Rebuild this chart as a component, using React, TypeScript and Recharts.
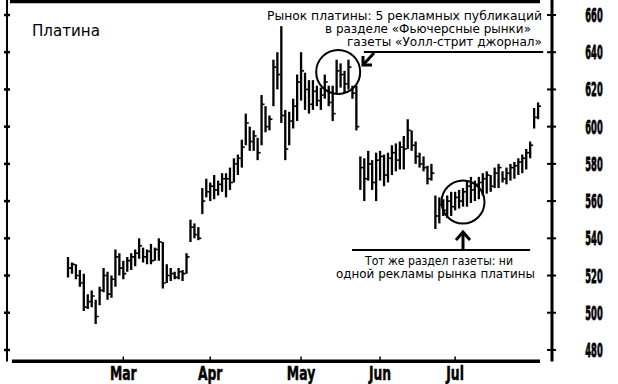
import { Bar, ComposedChart, ReferenceDot, ReferenceLine, XAxis, YAxis } from "recharts";

// daily platinum bars (trading-day index 0..119)
const highs = [
  530, 527, 526, 523, 521, 510, 512, 507, 514, 524,
  522, 520, 534, 532, 528, 530, 532, 534, 540, 535,
  534, 537, 535, 540, 538, 526, 524, 522, 524, 523,
  532, 550, 548, 546, 567, 572, 570, 574, 571, 575,
  575, 578, 583, 585, 593, 607, 600, 598, 594, 617,
  611, 606, 636, 640, 654, 609, 608, 615, 628, 640,
  629, 625, 625, 622, 621, 628, 622, 622, 636, 634,
  630, 636, 622, 622, 584, 583, 587, 582, 586, 587,
  585, 586, 590, 591, 592, 595, 604, 598, 592, 586,
  584, 579, 580, 563, 562, 561, 563, 565, 565, 566,
  567, 571, 573, 571, 573, 575, 576, 574, 578, 580,
  576, 578, 580, 581, 583, 585, 588, 592, 610, 613,
];
const lows = [
  519, 521, 518, 514, 501, 502, 503, 494, 504, 511,
  507, 508, 514, 520, 518, 522, 523, 525, 529, 527,
  526, 526, 528, 528, 513, 516, 517, 518, 518, 517,
  521, 538, 540, 539, 553, 562, 560, 561, 563, 565,
  562, 566, 570, 574, 578, 590, 587, 587, 582, 590,
  597, 598, 611, 620, 602, 582, 590, 599, 603, 614,
  609, 607, 609, 611, 609, 615, 611, 603, 618, 621,
  618, 620, 615, 598, 566, 560, 571, 566, 560, 571,
  568, 570, 574, 576, 577, 577, 588, 587, 580, 578,
  576, 569, 571, 545, 548, 552, 551, 552, 555, 556,
  557, 557, 559, 560, 561, 563, 564, 565, 567, 567,
  570, 569, 571, 572, 574, 575, 577, 583, 599, 604,
];
const closes = [
  524, 526, 520, 516, 503, 506, 509, 498, 512, 520,
  510, 518, 530, 524, 521, 528, 530, 532, 536, 530,
  533, 528, 534, 538, 516, 520, 521, 519, 522, 521,
  530, 546, 542, 540, 560, 565, 568, 566, 569, 572,
  572, 570, 580, 583, 589, 602, 592, 595, 586, 612,
  600, 604, 632, 628, 606, 588, 603, 611, 624, 630,
  620, 612, 619, 614, 617, 624, 613, 607, 630, 628,
  623, 632, 618, 600, 578, 572, 580, 570, 582, 584,
  574, 583, 586, 582, 589, 588, 598, 590, 584, 580,
  578, 572, 575, 552, 558, 555, 560, 557, 562, 560,
  565, 568, 566, 569, 570, 572, 574, 568, 575, 578,
  572, 575, 578, 579, 581, 583, 586, 590, 605, 611,
];

const monthTicks = [14, 36, 59, 79, 98];
const monthNames = ["Mar", "Apr", "May", "Jun", "Jul"];
const priceTicks = [480, 490, 500, 510, 520, 530, 540, 550, 560, 570, 580, 590, 600, 610, 620, 630, 640, 650, 660];

const data = highs.map((h, i) => ({ day: i, range: [lows[i], h], close: closes[i] }));

const X_DOMAIN: [number, number] = [-15.44, 122.53];
const Y_DOMAIN: [number, number] = [473.8, 668.06];
const INK = "#000";
const TEXT_FONT = "'DejaVu Sans', sans-serif";
const NUM_FONT = "'DejaVu Sans', sans-serif";

// squeeze a text horizontally around its anchor x (the scan uses a very condensed heavy face)
const squeeze = (x: number, k: number) => `translate(${x} 0) scale(${k} 1) translate(${-x} 0)`;

// one OHLC-style stroke: high-low line plus a close tick to the right
function PriceBar(props: any) {
  const { x, y, width, height, payload } = props;
  if (x == null || y == null) return null;
  const cx = x + width / 2;
  const top = Math.min(y, y + height);
  const h = Math.abs(height);
  const [lo, hi] = payload.range;
  const cy = top + ((hi - payload.close) / (hi - lo)) * h;
  return (
    <g>
      <line x1={cx} x2={cx} y1={top} y2={top + h} stroke={INK} strokeWidth={2.3} />
      <line x1={cx} x2={cx + 3} y1={cy} y2={cy} stroke={INK} strokeWidth={1.6} />
    </g>
  );
}

function RightTick({ x, y, payload }: any) {
  const v = payload.value;
  const lx = x + 42;
  return (
    <g>
      <line x1={x - 5} x2={x + 4} y1={y} y2={y} stroke={INK} strokeWidth={2} />
      {v % 20 === 0 && (
        <text x={lx} y={y + 7} textAnchor="middle" fontFamily={NUM_FONT} fontWeight="bold"
          fontSize={19} fill={INK} stroke={INK} strokeWidth={0.8} transform={squeeze(lx, 0.44)}>
          {v}
        </text>
      )}
    </g>
  );
}

function LeftTick({ x, y }: any) {
  return <line x1={x - 3} x2={x + 3} y1={y} y2={y} stroke={INK} strokeWidth={2.5} />;
}

function MonthTick({ x, y, payload }: any) {
  const name = monthNames[monthTicks.indexOf(payload.value)] ?? "";
  return (
    <g>
      <line x1={x} x2={x} y1={y - 5} y2={y} stroke={INK} strokeWidth={1.5} />
      <text x={x} y={y + 18.5} textAnchor="middle" fontFamily={NUM_FONT} fontWeight="bold"
        fontSize={20} fill={INK} stroke={INK} strokeWidth={0.5} transform={squeeze(x, 0.62)}>
        {name}
      </text>
    </g>
  );
}

export default function App() {
  return (
    <div style={{ position: "relative", width: 618, height: 384, background: "#fff" }}>
      <style>{"body{margin:0}"}</style>
      <ComposedChart width={618} height={384} data={data} margin={{ top: 0, right: 0, bottom: 0, left: 0 }}>
        <XAxis
          type="number"
          dataKey="day"
          domain={X_DOMAIN}
          allowDataOverflow
          ticks={monthTicks}
          axisLine={false}
          tickLine={false}
          tickSize={0}
          tickMargin={0}
          height={22.5}
          tick={<MonthTick />}
        />
        <YAxis
          yAxisId="l"
          orientation="left"
          type="number"
          domain={Y_DOMAIN}
          allowDataOverflow
          ticks={priceTicks}
          width={7}
          axisLine={{ stroke: INK, strokeWidth: 2 }}
          tickLine={false}
          tickSize={0}
          tickMargin={0}
          tick={<LeftTick />}
        />
        <YAxis
          yAxisId="r"
          orientation="right"
          type="number"
          domain={Y_DOMAIN}
          allowDataOverflow
          ticks={priceTicks}
          width={66}
          axisLine={{ stroke: INK, strokeWidth: 3 }}
          tickLine={false}
          tickSize={0}
          tickMargin={0}
          tick={<RightTick />}
        />
        {/* frame: thick top rule and bottom axis, both stop short of the price scale */}
        <ReferenceLine yAxisId="r" segment={[{ x: -14.7, y: 667.25 }, { x: 119.5, y: 667.25 }]} stroke={INK} strokeWidth={3.5} />
        <ReferenceLine yAxisId="r" segment={[{ x: -14.2, y: 474.0 }, { x: 119.5, y: 474.0 }]} stroke={INK} strokeWidth={3.5} />
        <Bar yAxisId="r" dataKey="range" barSize={2} shape={<PriceBar />} isAnimationActive={false} />
        {/* annotation rules and circles */}
        <ReferenceLine yAxisId="r" segment={[{ x: 74.9, y: 640.1 }, { x: 120.3, y: 640.1 }]} stroke={INK} strokeWidth={2} />
        <ReferenceLine yAxisId="r" segment={[{ x: 71.9, y: 533.7 }, { x: 117.0, y: 533.7 }]} stroke={INK} strokeWidth={2} />
        <ReferenceDot yAxisId="r" x={68.4} y={629.4} r={22} fill="none" stroke={INK} strokeWidth={2} ifOverflow="visible" />
        <ReferenceDot yAxisId="r" x={100} y={559.5} r={21.5} fill="none" stroke={INK} strokeWidth={2} ifOverflow="visible" />
      </ComposedChart>
      <svg width={618} height={384} style={{ position: "absolute", left: 0, top: 0, pointerEvents: "none" }}>
        <text x={32} y={36} textLength={68} lengthAdjust="spacingAndGlyphs" fontFamily={TEXT_FONT} fontSize={16} fill={INK}>
          Платина
        </text>
        <g fontFamily={TEXT_FONT} fontSize={12} fill={INK}>
          <text x={267} y={20} textLength={275} lengthAdjust="spacingAndGlyphs">Рынок платины: 5 рекламных публикаций</text>
          <text x={325} y={33} textLength={206} lengthAdjust="spacingAndGlyphs">в разделе «Фьючерсные рынки»</text>
          <text x={347} y={46} textLength={195} lengthAdjust="spacingAndGlyphs">газеты «Уолл-стрит джорнал»</text>
          <text x={365} y={265} textLength={148} lengthAdjust="spacingAndGlyphs">Тот же раздел газеты: ни</text>
          <text x={336} y={278} textLength={199} lengthAdjust="spacingAndGlyphs">одной рекламы рынка платины</text>
        </g>
        <g stroke={INK} strokeWidth={3} fill="none">
          <line x1={374} y1={53} x2={363} y2={65} />
          <polyline points="363,56 363,65 372,65" />
          <line x1={463} y1={233} x2={463} y2={250} />
          <polyline points="456,240 463,232 470,240" />
        </g>
      </svg>
    </div>
  );
}
